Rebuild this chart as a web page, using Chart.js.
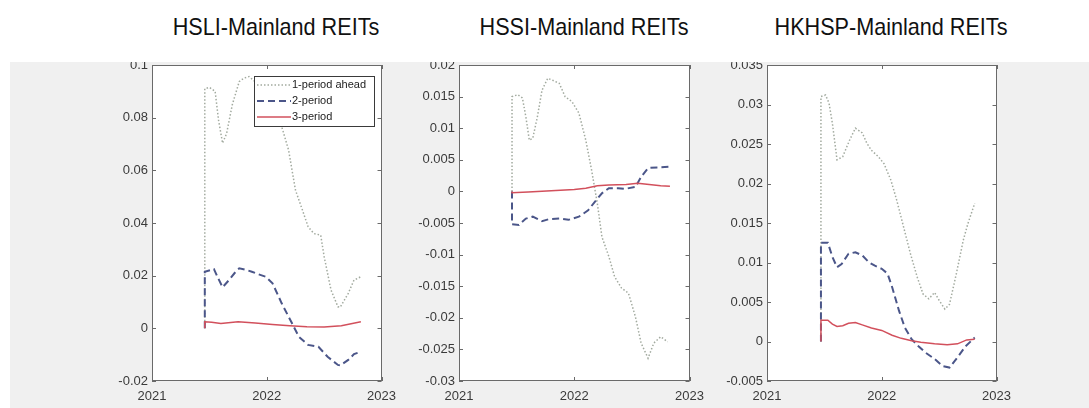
<!DOCTYPE html>
<html>
<head>
<meta charset="utf-8">
<script src="https://cdn.jsdelivr.net/npm/chart.js@4.4.1/dist/chart.umd.min.js"></script>
<style>
  html, body { margin: 0; padding: 0; background: #ffffff; }
  body { width: 1089px; height: 408px; position: relative; overflow: hidden; }
  #figure { position: absolute; left: 10px; top: 62px; width: 1079px; height: 346px;
            background: #f0f0f0; overflow: hidden; }
  #figure canvas { position: absolute; top: -17px; }
  .title { position: absolute; top: 15px; width: 400px; text-align: center;
           font-family: 'Liberation Sans', Arial, sans-serif; font-size: 24px; line-height: 24px;
           color: #111; transform: scaleX(0.9); transform-origin: center; white-space: nowrap; }
</style>
</head>
<body>
<div id="t1" class="title"></div>
<div id="t2" class="title"></div>
<div id="t3" class="title"></div>
<div id="figure">
  <canvas id="c1"></canvas>
  <canvas id="c2"></canvas>
  <canvas id="c3"></canvas>
</div>
<script>
// Panel titles and legend entries
const titles = ['HSLI-Mainland REITs', 'HSSI-Mainland REITs', 'HKHSP-Mainland REITs'];
const seriesNames = ['1-period ahead', '2-period', '3-period'];

// Axis ticks
const yearTicks = [2021, 2022, 2023];
const hsliTicks = [-0.02, 0, 0.02, 0.04, 0.06, 0.08, 0.1];
const hssiTicks = [-0.03, -0.025, -0.02, -0.015, -0.01, -0.005, 0, 0.005, 0.01, 0.015, 0.02];
const hkhspTicks = [-0.005, 0, 0.005, 0.01, 0.015, 0.02, 0.025, 0.03, 0.035];

// HSLI -> Mainland REITs responses, [year, value]
const hsliAhead1 = [[2021.46, 0.0], [2021.46, 0.091], [2021.5, 0.0915], [2021.55, 0.090], [2021.58, 0.079],
  [2021.615, 0.0703], [2021.65, 0.074], [2021.7, 0.085], [2021.76, 0.0937], [2021.8, 0.095], [2021.845, 0.0956],
  [2021.89, 0.094], [2021.95, 0.092], [2022.0, 0.089], [2022.05, 0.085], [2022.1, 0.080], [2022.13, 0.0766],
  [2022.19, 0.0677], [2022.25, 0.0525], [2022.31, 0.045], [2022.36, 0.0386], [2022.41, 0.036], [2022.47, 0.0354],
  [2022.5, 0.0272], [2022.56, 0.0145], [2022.62, 0.0082], [2022.64, 0.008], [2022.71, 0.0133], [2022.76, 0.0183],
  [2022.82, 0.0196]];
const hsliPeriod2 = [[2021.46, 0.0], [2021.46, 0.0215], [2021.54, 0.0225], [2021.57, 0.0196], [2021.615, 0.0156],
  [2021.67, 0.0183], [2021.72, 0.021], [2021.76, 0.0228], [2021.82, 0.0222], [2021.87, 0.0215], [2021.93, 0.0205],
  [2021.99, 0.0196], [2022.05, 0.0171], [2022.13, 0.0095], [2022.22, 0.0019], [2022.28, -0.0032], [2022.36, -0.0063],
  [2022.45, -0.007], [2022.53, -0.0108], [2022.62, -0.0139], [2022.64, -0.0141], [2022.71, -0.012], [2022.76, -0.0098],
  [2022.82, -0.0089]];
const hsliPeriod3 = [[2021.46, 0.0], [2021.46, 0.0025], [2021.52, 0.0023], [2021.6, 0.0018], [2021.75, 0.0025],
  [2021.9, 0.002], [2022.05, 0.0015], [2022.2, 0.001], [2022.35, 0.0006], [2022.5, 0.0005], [2022.65, 0.001],
  [2022.82, 0.0025]];

// HSSI -> Mainland REITs responses
const hssiAhead1 = [[2021.46, 0.0], [2021.46, 0.015], [2021.51, 0.0153], [2021.55, 0.0148], [2021.58, 0.0118],
  [2021.61, 0.0081], [2021.64, 0.0084], [2021.68, 0.0118], [2021.72, 0.016], [2021.77, 0.0179], [2021.81, 0.0176],
  [2021.87, 0.0171], [2021.92, 0.015], [2021.98, 0.0142], [2022.04, 0.0124], [2022.1, 0.0081], [2022.15, 0.0034],
  [2022.2, -0.0019], [2022.24, -0.0072], [2022.3, -0.0103], [2022.35, -0.0135], [2022.41, -0.0153], [2022.47, -0.0161],
  [2022.53, -0.0198], [2022.58, -0.024], [2022.64, -0.0264], [2022.69, -0.024], [2022.75, -0.023], [2022.81, -0.0238]];
const hssiPeriod2 = [[2021.46, 0.0], [2021.46, -0.0052], [2021.52, -0.0053], [2021.58, -0.0043], [2021.64, -0.004],
  [2021.72, -0.0047], [2021.78, -0.0044], [2021.87, -0.0043], [2021.95, -0.0045], [2022.04, -0.004], [2022.12, -0.003],
  [2022.18, -0.0016], [2022.24, -0.0003], [2022.3, 0.0005], [2022.38, 0.0005], [2022.44, 0.0004], [2022.53, 0.0007],
  [2022.58, 0.0023], [2022.64, 0.0037], [2022.72, 0.0038], [2022.83, 0.0039]];
const hssiPeriod3 = [[2021.46, 0.0], [2021.46, -0.0002], [2021.6, -0.0001], [2021.8, 0.0001], [2022.0, 0.0003],
  [2022.1, 0.0005], [2022.2, 0.0009], [2022.3, 0.001], [2022.45, 0.0011], [2022.55, 0.0013], [2022.65, 0.0011],
  [2022.75, 0.0009], [2022.83, 0.0008]];

// HKHSP -> Mainland REITs responses
const hkhspAhead1 = [[2021.47, 0.0], [2021.47, 0.031], [2021.51, 0.0312], [2021.54, 0.0302], [2021.57, 0.0276],
  [2021.61, 0.023], [2021.66, 0.0234], [2021.72, 0.0255], [2021.77, 0.027], [2021.83, 0.0264], [2021.87, 0.0251],
  [2021.91, 0.0242], [2021.97, 0.0234], [2022.02, 0.0225], [2022.08, 0.0204], [2022.13, 0.0179], [2022.19, 0.0145],
  [2022.25, 0.0111], [2022.31, 0.0081], [2022.36, 0.006], [2022.41, 0.0054], [2022.46, 0.0062], [2022.5, 0.0052],
  [2022.55, 0.0041], [2022.59, 0.0047], [2022.65, 0.0086], [2022.71, 0.0128], [2022.75, 0.0149], [2022.81, 0.0175]];
const hkhspPeriod2 = [[2021.47, 0.0], [2021.47, 0.0125], [2021.53, 0.0125], [2021.57, 0.0107], [2021.61, 0.0094],
  [2021.65, 0.0098], [2021.71, 0.0111], [2021.77, 0.0113], [2021.83, 0.0109], [2021.89, 0.01], [2021.94, 0.0096],
  [2022.0, 0.0092], [2022.05, 0.0086], [2022.09, 0.0069], [2022.15, 0.0039], [2022.2, 0.0018], [2022.26, 0.0003],
  [2022.32, -0.0006], [2022.38, -0.0014], [2022.46, -0.0022], [2022.53, -0.0031], [2022.59, -0.0033], [2022.66, -0.002],
  [2022.73, -0.0006], [2022.81, 0.0005]];
const hkhspPeriod3 = [[2021.47, 0.0], [2021.47, 0.0027], [2021.53, 0.0027], [2021.57, 0.0022], [2021.61, 0.0019],
  [2021.66, 0.002], [2021.71, 0.0023], [2021.77, 0.0024], [2021.83, 0.0021], [2021.91, 0.0017], [2022.0, 0.0014],
  [2022.09, 0.0008], [2022.17, 0.0004], [2022.26, 0.0001], [2022.34, -0.0001], [2022.46, -0.0003], [2022.57, -0.0004],
  [2022.66, -0.0003], [2022.74, 0.0002], [2022.81, 0.0003]];

// Line styles per horizon
const lineStyles = [
  { borderColor: '#a2aa9f', borderWidth: 1.5, borderDash: [1.5, 2], order: 2 },
  { borderColor: '#4b5689', borderWidth: 2, borderDash: [7, 4], order: 1 },
  { borderColor: '#d2505c', borderWidth: 1.5, borderDash: [], order: 0 }
];

// Page placement of each axes box (plot-area left/right edges in page pixels)
const panels = [
  { canvas: 'c1', title: 't1', plotLeft: 152, plotRight: 384, ticks: hsliTicks,
    series: [hsliAhead1, hsliPeriod2, hsliPeriod3], legend: true },
  { canvas: 'c2', title: 't2', plotLeft: 459, plotRight: 692, ticks: hssiTicks,
    series: [hssiAhead1, hssiPeriod2, hssiPeriod3], legend: false },
  { canvas: 'c3', title: 't3', plotLeft: 767, plotRight: 999, ticks: hkhspTicks,
    series: [hkhspAhead1, hkhspPeriod2, hkhspPeriod3], legend: false }
];

const FONT = "'Liberation Sans', Arial, sans-serif";
const Y_AXIS_W = 60, X_AXIS_H = 27, PAD_TOP = 20, PAD_RIGHT = 20, PLOT_H = 316;
const FIG_LEFT = 10;

// White plot background, box outline, inward ticks and the boxed legend
const axesBox = {
  id: 'axesBox',
  beforeDatasetsDraw(chart) {
    const a = chart.chartArea, ctx = chart.ctx;
    ctx.save();
    ctx.fillStyle = '#ffffff';
    ctx.fillRect(a.left, a.top, a.right - a.left, a.bottom - a.top);
    ctx.restore();
  },
  afterDatasetsDraw(chart) {
    const a = chart.chartArea, ctx = chart.ctx;
    const xs = chart.scales.x, ys = chart.scales.y;
    ctx.save();
    ctx.strokeStyle = '#6a6a6a';
    ctx.lineWidth = 1;
    ctx.beginPath();
    ys.ticks.forEach(t => {
      const py = Math.round(ys.getPixelForValue(t.value)) + 0.5;
      ctx.moveTo(a.left, py); ctx.lineTo(a.left + 4, py);
      ctx.moveTo(a.right, py); ctx.lineTo(a.right - 4, py);
    });
    xs.ticks.forEach(t => {
      const px = Math.round(xs.getPixelForValue(t.value)) + 0.5;
      ctx.moveTo(px, a.top); ctx.lineTo(px, a.top + 4);
      ctx.moveTo(px, a.bottom); ctx.lineTo(px, a.bottom - 4);
    });
    ctx.stroke();
    ctx.strokeRect(Math.round(a.left) + 0.5, Math.round(a.top) + 0.5,
                   Math.round(a.right - a.left) - 1, Math.round(a.bottom - a.top) - 1);

    const lg = chart.options.plugins.axesBox;
    if (lg && lg.legend) {
      const x0 = Math.round(a.left + lg.dx), y0 = Math.round(a.top + lg.dy);
      ctx.fillStyle = '#ffffff';
      ctx.fillRect(x0, y0, lg.w, lg.h);
      ctx.strokeStyle = '#3a3a3a';
      ctx.lineWidth = 1;
      ctx.strokeRect(x0 + 0.5, y0 + 0.5, lg.w, lg.h);
      chart.data.datasets.forEach((ds, i) => {
        const cy = y0 + lg.rowTop + i * lg.rowGap;
        ctx.save();
        ctx.setLineDash(ds.borderDash || []);
        ctx.strokeStyle = ds.borderColor;
        ctx.lineWidth = ds.borderWidth;
        ctx.beginPath();
        ctx.moveTo(x0 + 3, cy); ctx.lineTo(x0 + 37, cy);
        ctx.stroke();
        ctx.restore();
        ctx.fillStyle = '#222222';
        ctx.font = '11px ' + FONT;
        ctx.textBaseline = 'middle';
        ctx.textAlign = 'left';
        ctx.fillText(ds.label, x0 + 38, cy);
      });
    }
    ctx.restore();
  }
};

const fmt = v => { const s = String(+Number(v).toFixed(4)); return s === '-0' ? '0' : s; };

panels.forEach(p => {
  const plotW = p.plotRight - p.plotLeft;
  const cw = Y_AXIS_W + plotW + PAD_RIGHT;
  const ch = PAD_TOP + PLOT_H + X_AXIS_H;
  const cv = document.getElementById(p.canvas);
  cv.width = cw; cv.height = ch;
  cv.style.width = cw + 'px'; cv.style.height = ch + 'px';
  cv.style.left = (p.plotLeft - Y_AXIS_W - FIG_LEFT) + 'px';

  const tEl = document.getElementById(p.title);
  tEl.textContent = titles[panels.indexOf(p)];
  tEl.style.left = ((p.plotLeft + p.plotRight) / 2 + 8 - 200) + 'px';

  const datasets = p.series.map((s, i) => Object.assign({
    label: seriesNames[i],
    data: s.map(([x, y]) => ({ x, y })),
    pointRadius: 0, tension: 0, fill: false
  }, lineStyles[i]));

  new Chart(cv, {
    type: 'line',
    data: { datasets },
    options: {
      responsive: false, animation: false, devicePixelRatio: 1,
      layout: { padding: { left: 0, top: PAD_TOP, right: PAD_RIGHT, bottom: 0 } },
      plugins: {
        legend: { display: false }, tooltip: { enabled: false },
        axesBox: { legend: p.legend, dx: 102, dy: 11, w: 120, h: 50, rowTop: 9, rowGap: 16 }
      },
      scales: {
        x: {
          type: 'linear', min: yearTicks[0], max: yearTicks[yearTicks.length - 1],
          afterBuildTicks: sc => { sc.ticks = yearTicks.map(v => ({ value: v })); },
          afterFit: sc => { sc.height = X_AXIS_H; },
          grid: { display: false, drawTicks: false }, border: { display: false },
          ticks: { color: '#3a3a3a', font: { family: FONT, size: 13 }, padding: 8,
                   maxRotation: 0, autoSkip: false, callback: v => String(v) }
        },
        y: {
          type: 'linear', min: p.ticks[0], max: p.ticks[p.ticks.length - 1],
          afterBuildTicks: sc => { sc.ticks = p.ticks.map(v => ({ value: v })); },
          afterFit: sc => { sc.width = Y_AXIS_W; },
          grid: { display: false, drawTicks: false }, border: { display: false },
          ticks: { color: '#3a3a3a', font: { family: FONT, size: 13 }, padding: 4,
                   autoSkip: false, callback: v => fmt(v) }
        }
      }
    },
    plugins: [axesBox]
  });
});
</script>
</body>
</html>
